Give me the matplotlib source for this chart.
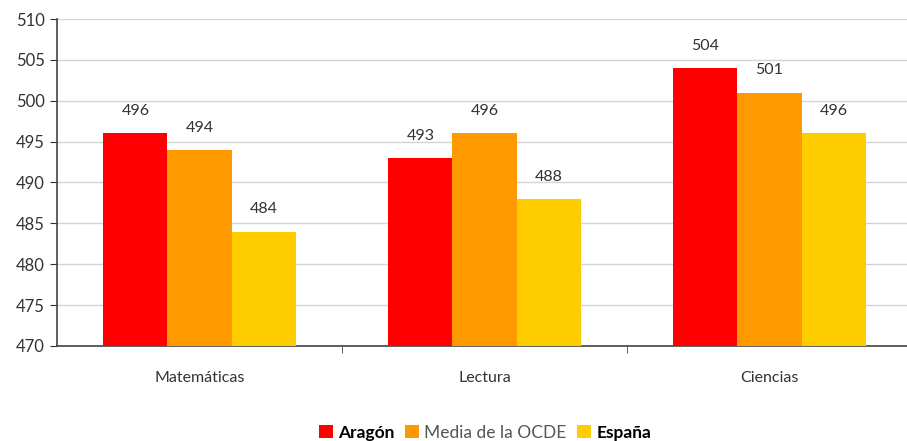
import matplotlib.pyplot as plt
import numpy as np

categories = ['Matemáticas', 'Lectura', 'Ciencias']
series_names = ['Aragón', 'Media de la OCDE', 'España']
aragon = [496, 493, 504]
ocde = [494, 496, 501]
espana = [484, 488, 496]
yticks = [470, 475, 480, 485, 490, 495, 500, 505, 510]

COLORS = ('#FF0000', '#FF9900', '#FFCC00')

plt.rcParams['font.family'] = ['Lato', 'DejaVu Sans']

fig = plt.figure(figsize=(9.07, 4.41), dpi=100)
ax = fig.add_axes([57 / 907, 95 / 441, 855 / 907, 327 / 441])

x = np.arange(len(categories))
w = 0.225
handles = []
for i, vals in enumerate((aragon, ocde, espana)):
    pos = x + (i - 1) * w
    b = ax.bar(pos, vals, width=w, bottom=0, color=COLORS[i], zorder=3)
    handles.append(b)
    for px, v in zip(pos, vals):
        ax.annotate(str(v), (px, v), xytext=(0, 11), textcoords='offset points',
                    ha='center', va='bottom', fontsize=11.5, color='#333333')

ax.set_ylim(470, 510)
ax.set_xlim(-0.5, 2.5)
ax.set_yticks(yticks)
ax.yaxis.grid(True, color='#d4d4d4', linewidth=1, zorder=0)
ax.tick_params(axis='y', direction='out', length=5, labelsize=12, colors='#333333', pad=4)

ax.set_xticks(x)
ax.set_xticklabels(categories)
ax.tick_params(axis='x', length=0, pad=18, labelsize=11.5, labelcolor='#333333')
ax.set_xticks([0.5, 1.5], minor=True)
ax.tick_params(axis='x', which='minor', direction='out', length=5, color='#444444')

for s in ('top', 'right'):
    ax.spines[s].set_visible(False)
for s in ('left', 'bottom'):
    ax.spines[s].set_color('#444444')
    ax.spines[s].set_linewidth(1.2)

leg = fig.legend(handles, series_names, loc='lower center', bbox_to_anchor=(0.535, -0.035),
                 ncol=3, frameon=False, fontsize=12.5, handlelength=0.8, handleheight=0.8,
                 handletextpad=0.3, columnspacing=0.6)
for t, wt, c in zip(leg.get_texts(), ('bold', 'normal', 'bold'), ('black', '#555555', 'black')):
    t.set_fontweight(wt)
    t.set_color(c)

fig.savefig('out.png', dpi=100)
